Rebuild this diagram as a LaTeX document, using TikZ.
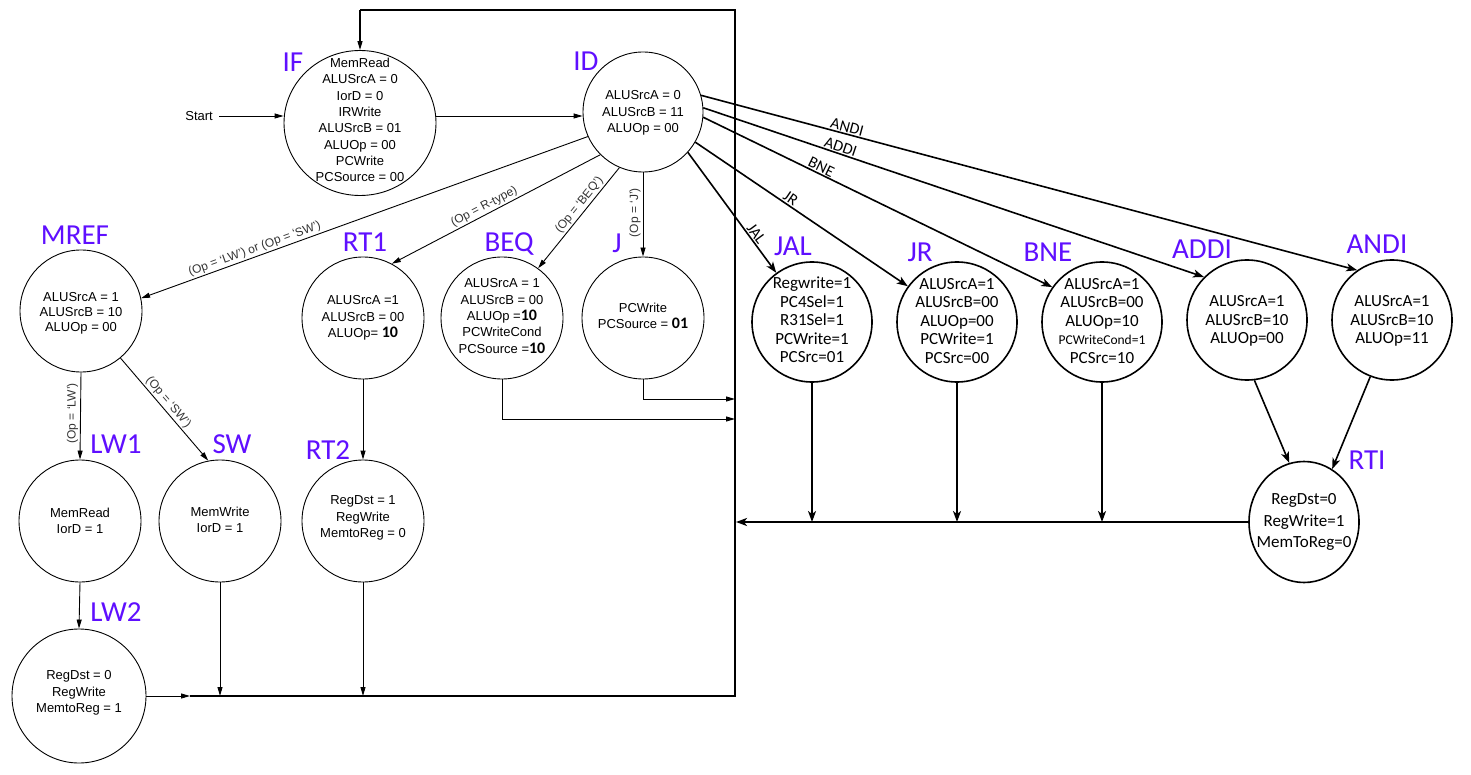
\documentclass[tikz,border=0pt]{standalone}
\usepackage{fontspec}
\setmainfont{Liberation Sans}
\newfontfamily\carl{Carlito}
\usetikzlibrary{arrows.meta,shapes.geometric}
\definecolor{labc}{RGB}{95,15,255}
\newcommand{\bnum}[1]{{\carl\bfseries\fontsize{16}{16}\selectfont #1}}
\begin{document}
\begin{tikzpicture}[x=1pt,y=-1pt,
  stL/.style={draw, line width=0.9pt, ellipse, inner sep=0pt},
  stR/.style={draw, line width=1.6pt, ellipse, inner sep=0pt},
  txL/.style={align=center, font=\fontsize{13}{16.3}\selectfont, inner sep=0pt},
  txR/.style={align=center, font=\carl\fontsize{17}{18.5}\selectfont, inner sep=0pt},
  lab/.style={text=labc, font=\carl\fontsize{29}{29}\selectfont, inner sep=0pt, anchor=base},
  eL/.style={line width=0.9pt, -{Triangle[length=9pt,width=5pt]}},
  eR/.style={line width=1.6pt, -{Stealth[length=11pt,width=8pt,inset=3pt]}},
  elL/.style={font=\fontsize{12}{12}\selectfont, text=black!80, sloped, above, inner sep=1.5pt},
  elR/.style={font=\carl\fontsize{16}{16}\selectfont, sloped, above, inner sep=1pt},
  frame/.style={line width=1.2pt}
]
\useasboundingbox (0,0) rectangle (1471,775);
\fill[white] (0,0) rectangle (1471,775);

% ---------- states (left part) ----------
\node[stL, minimum width=152pt, minimum height=145pt] (IF) at (360,123) {};
\node[txL] (IFt) at (360,120) {MemRead\\ALUSrcA = 0\\IorD = 0\\IRWrite\\ALUSrcB = 01\\ALUOp = 00\\PCWrite\\PCSource = 00};
\node[stL, minimum width=120pt, minimum height=120pt] (ID) at (643,112) {};
\node[txL] (IDt) at (643,113) {ALUSrcA = 0\\ALUSrcB = 11\\ALUOp = 00};
\node[stL, minimum width=122pt, minimum height=122pt] (MREF) at (81,311) {};
\node[txL, font=\fontsize{13}{15}\selectfont] (MREFt) at (81,313) {ALUSrcA = 1\\ALUSrcB = 10\\ALUOp = 00};
\node[stL, minimum width=122pt, minimum height=122pt] (RT1) at (363,318) {};
\node[txL] (RT1t) at (363,318) {ALUSrcA =1\\ALUSrcB = 00\\ALUOp= \bnum{10}};
\node[stL, minimum width=122pt, minimum height=122pt] (BEQ) at (502,318) {};
\node[txL] (BEQt) at (502,316) {ALUSrcA = 1\\ALUSrcB = 00\\ALUOp =\bnum{10}\\PCWriteCond\\PCSource =\bnum{10}};
\node[stL, minimum width=122pt, minimum height=122pt] (J) at (643,318) {};
\node[txL] (Jt) at (643,316) {PCWrite\\PCSource = \bnum{01}};
\node[stL, minimum width=122pt, minimum height=122pt] (LW1) at (80,521) {};
\node[txL] (LW1t) at (80,521) {MemRead\\IorD = 1};
\node[stL, minimum width=122pt, minimum height=122pt] (SW) at (220,521) {};
\node[txL] (SWt) at (220,520) {MemWrite\\IorD = 1};
\node[stL, minimum width=122pt, minimum height=122pt] (RT2) at (363,521) {};
\node[txL] (RT2t) at (363,518) {RegDst = 1\\RegWrite\\MemtoReg = 0};
\node[stL, minimum width=134pt, minimum height=134pt] (LW2) at (79,696) {};
\node[txL] (LW2t) at (79,693) {RegDst = 0\\RegWrite\\MemtoReg = 1};

% ---------- states (right part) ----------
\node[stR, minimum width=120pt, minimum height=120pt] (JAL) at (812,322) {};
\node[txR] (JALt) at (812,320) {Regwrite=1\\PC4Sel=1\\R31Sel=1\\PCWrite=1\\PCSrc=01};
\node[stR, minimum width=120pt, minimum height=120pt] (JR) at (957,322) {};
\node[txR] (JRt) at (957,321) {ALUSrcA=1\\ALUSrcB=00\\ALUOp=00\\PCWrite=1\\PCSrc=00};
\node[stR, minimum width=120pt, minimum height=120pt] (BNE) at (1102,322) {};
\node[txR] (BNEt) at (1102,321) {ALUSrcA=1\\ALUSrcB=00\\ALUOp=10\\{\fontsize{13.5}{13.5}\selectfont PCWriteCond=1}\\PCSrc=10};
\node[stR, minimum width=120pt, minimum height=120pt] (ADDI) at (1247,320) {};
\node[txR] (ADDIt) at (1247,321) {ALUSrcA=1\\ALUSrcB=10\\ALUOp=00};
\node[stR, minimum width=120pt, minimum height=120pt] (ANDI) at (1392,320) {};
\node[txR] (ANDIt) at (1392,321) {ALUSrcA=1\\ALUSrcB=10\\ALUOp=11};
\node[stR, minimum width=110pt, minimum height=121pt] (RTI) at (1304,522) {};
\node[txR, font=\carl\fontsize{17}{21.5}\selectfont] (RTIt) at (1304,522) {RegDst=0\\RegWrite=1\\MemToReg=0};

% ---------- state names ----------
\node[lab] (lIF) at (293,72) {IF};
\node[lab] (lID) at (586,71) {ID};
\node[lab] (lMREF) at (75,245) {MREF};
\node[lab] (lRT1) at (365,252) {RT1};
\node[lab] (lBEQ) at (509,252) {BEQ};
\node[lab] (lJ) at (617,253) {J};
\node[lab] (lLW1) at (116,453) {LW1};
\node[lab] (lSW) at (232,453) {SW};
\node[lab] (lRT2) at (328,459) {RT2};
\node[lab] (lLW2) at (116,621) {LW2};
\node[lab] (lJAL) at (793,256) {JAL};
\node[lab] (lJR) at (920,262) {JR};
\node[lab] (lBNE) at (1048,262) {BNE};
\node[lab] (lADDI) at (1202,259) {ADDI};
\node[lab] (lANDI) at (1377,254) {ANDI};
\node[lab] (lRTI) at (1367,469) {RTI};

% ---------- start ----------
\node[txL, anchor=east] (start) at (213,116) {Start};
\coordinate (s0) at (219,116);
\draw[eL] (s0) -- (s0 -| IF.west);
\draw[eL] (IF.east |- s0) -- (ID.west |- s0);

% ---------- frame / feedback ----------
\coordinate (tl) at (360,10);
\coordinate (tr) at (735,10);
\coordinate (br) at (735,696);
\coordinate (bm) at (190,696);
\draw[eL] (LW2.east |- br) -- (bm);
\draw[frame] (bm) -- (br) -- (tr) -- (tl);
\draw[eL, line width=1.2pt] (tl) -- (IF.north);
\draw[eL] (SW.south) -- (SW.south |- br);
\draw[eL] (RT2.south) -- (RT2.south |- br);
\coordinate (beqE) at (735,419);
\coordinate (jE) at (735,399);
\draw[eL] (BEQ.south) |- (beqE);
\draw[eL] (J.south) |- (jE);

% ---------- left transitions ----------
\draw[eL] (ID.204) -- (MREF.12) node[elL, pos=0.74] {(Op = ‘LW’) or (Op = ‘SW’)};
\draw[eL] (ID.225) -- (RT1.62) node[elL, pos=0.54] {(Op = R-type)};
\draw[eL] (ID.247) -- (BEQ.54) node[elL, pos=0.42] {(Op = ‘BEQ’)};
\draw[eL] (ID.south) -- (J.north) node[pos=0.48, rotate=90, anchor=south, font=\fontsize{12}{12}\selectfont, text=black!80, inner sep=2pt] {(Op = ‘J’)};
\draw[eL] (MREF.south) -- (LW1.north) node[pos=0.47, rotate=90, anchor=south, font=\fontsize{12}{12}\selectfont, text=black!80, inner sep=2pt] {(Op = ‘LW’)};
\draw[eL] (MREF.-50) -- (SW.101) node[elL, pos=0.48] {(Op = ‘SW’)};
\draw[eL] (RT1.south) -- (RT2.north);
\draw[eL] (LW1.south) -- (LW2.north);

% ---------- right transitions ----------
\draw[eR] (ID.-42) -- (JAL.126) node[elR, pos=0.71] {JAL};
\draw[eR] (ID.-30) -- (JR.144) node[elR, pos=0.43] {JR};
\draw[eR] (ID.-5) -- (BNE.145) node[elR, pos=0.33] {BNE};
\draw[eR] (ID.4.5) -- (ADDI.135) node[elR, pos=0.27] {ADDI};
\draw[eR] (ID.16) -- (ANDI.125) node[elR, pos=0.22] {ANDI};
\draw[eR] (ADDI.-83) -- (RTI.104);
\draw[eR] (ANDI.249) -- (RTI.62);

\coordinate (rl) at (736,522);
\draw[eR, line width=2pt] (RTI.west) -- (rl);
\draw[eR] (JAL.south) -- (JAL.south |- rl);
\draw[eR] (JR.south) -- (JR.south |- rl);
\draw[eR] (BNE.south) -- (BNE.south |- rl);
\end{tikzpicture}
\end{document}
